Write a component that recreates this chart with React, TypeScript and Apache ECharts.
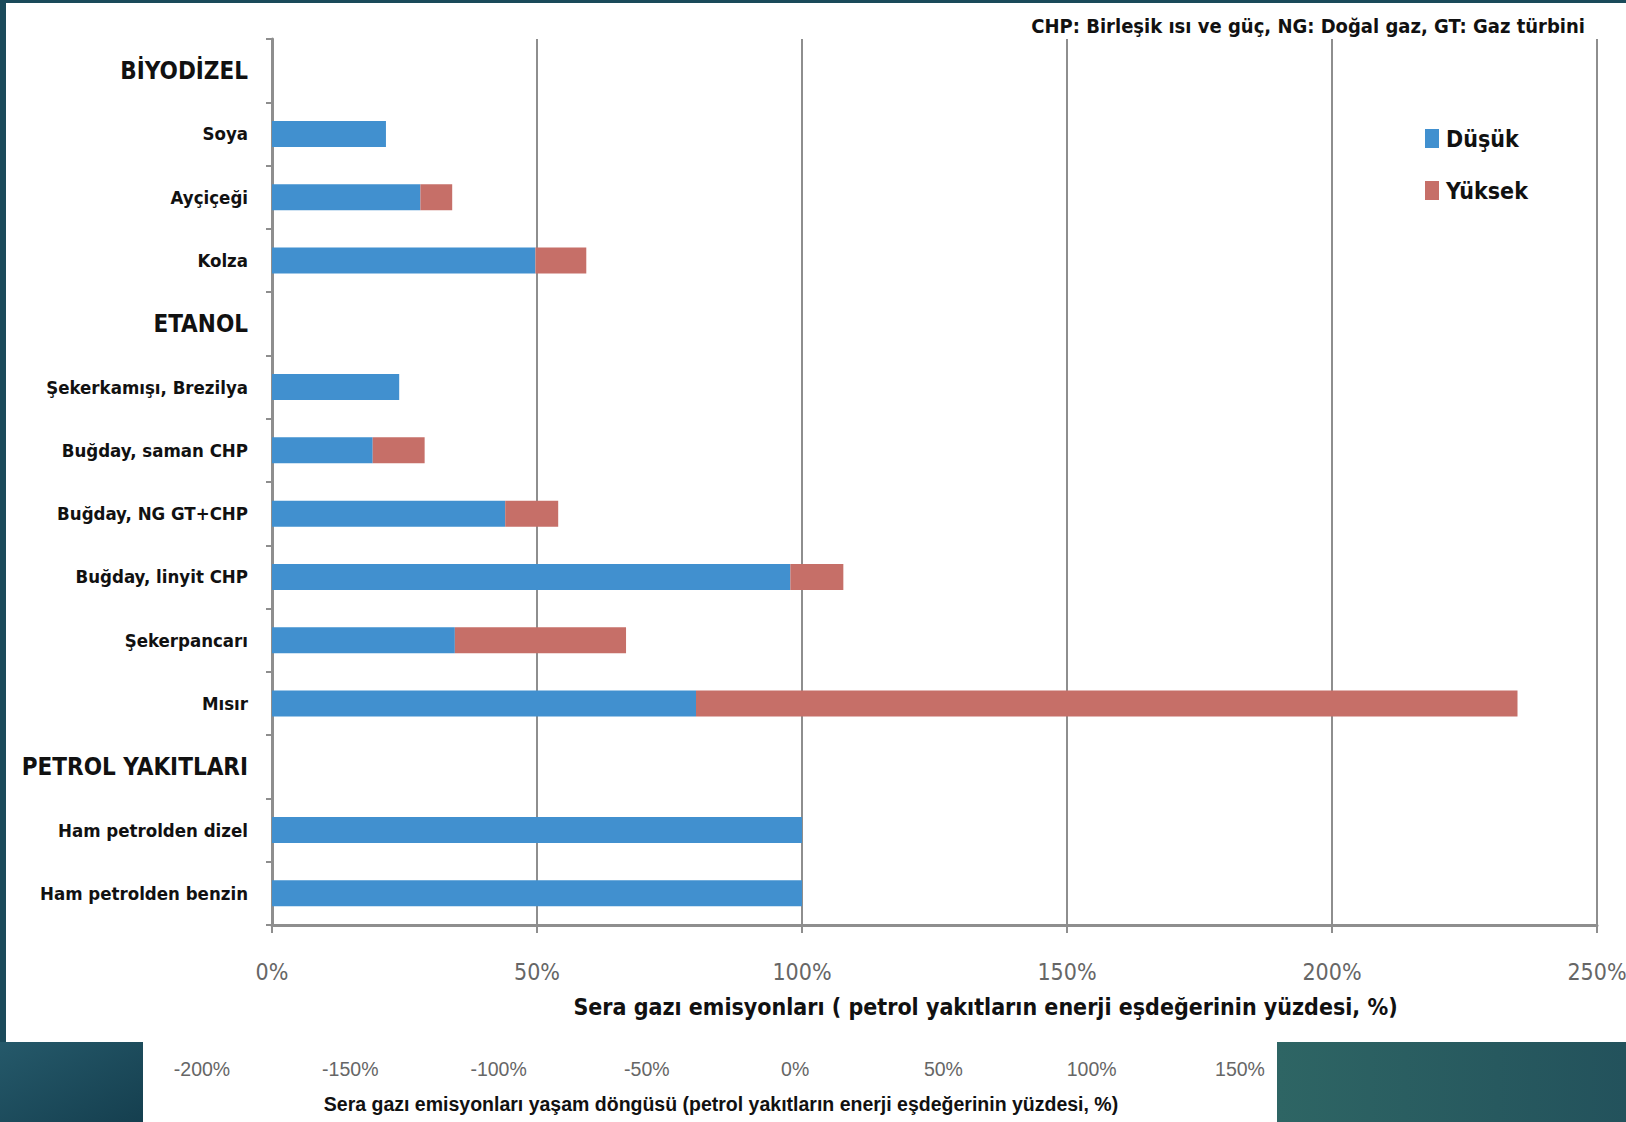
import React, { useEffect, useRef } from "react";
import * as echarts from "echarts";

const categories = [
  "BİYODİZEL",
  "Soya",
  "Ayçiçeği",
  "Kolza",
  "ETANOL",
  "Şekerkamışı, Brezilya",
  "Buğday, saman CHP",
  "Buğday, NG GT+CHP",
  "Buğday, linyit CHP",
  "Şekerpancarı",
  "Mısır",
  "PETROL YAKITLARI",
  "Ham petrolden dizel",
  "Ham petrolden benzin",
];
const headers = ["BİYODİZEL", "ETANOL", "PETROL YAKITLARI"];

// low end (Düşük) and high end (Yüksek) of each range, in %
const dusuk = [null, 21.5, 28, 49.7, null, 24, 19, 44, 97.8, 34.5, 80, null, 100, 100];
const yuksek = [null, 21.5, 34, 59.3, null, 24, 28.8, 54, 107.8, 66.8, 235, null, 100, 100];

const mainTicks = [0, 250, 50];
const lifeTicks = [-200, 150, 50];

const NOTE = "CHP: Birleşik ısı ve güç, NG: Doğal gaz, GT: Gaz türbini";
const MAIN_TITLE = "Sera gazı emisyonları ( petrol yakıtların enerji eşdeğerinin yüzdesi, %)";
const LIFE_TITLE = "Sera gazı emisyonları yaşam döngüsü (petrol yakıtların enerji eşdeğerinin yüzdesi, %)";

const NARROW = "'DejaVu Sans Condensed', 'Liberation Sans Narrow', sans-serif";
const SANS = "'Liberation Sans', Arial, sans-serif";

export default function App() {
  const ref = useRef<HTMLDivElement>(null);
  useEffect(() => {
    if (!ref.current) return;
    const chart = echarts.init(ref.current, null, { renderer: "svg" });
    const highPart = yuksek.map((h, i) =>
      h == null || dusuk[i] == null ? null : +(h - (dusuk[i] as number)).toFixed(2)
    );
    chart.setOption({
      animation: false,
      backgroundColor: "#ffffff",
      graphic: [
        { type: "rect", z: -10, shape: { x: 0, y: 0, width: 1626, height: 1122 }, style: { fill: "#1a4a5a" } },
        { type: "rect", z: -10, shape: { x: 6, y: 3, width: 1620, height: 1039 }, style: { fill: "#ffffff" } },
        {
          type: "rect", z: -10, shape: { x: 0, y: 1042, width: 143, height: 80 },
          style: { fill: new echarts.graphic.LinearGradient(0, 0, 1, 1, [{ offset: 0, color: "#25596a" }, { offset: 1, color: "#153f4f" }]) },
        },
        { type: "rect", z: -10, shape: { x: 143, y: 1042, width: 1134, height: 80 }, style: { fill: "#ffffff" } },
        {
          type: "rect", z: -10, shape: { x: 1277, y: 1042, width: 349, height: 80 },
          style: { fill: new echarts.graphic.LinearGradient(0, 0, 1, 0, [{ offset: 0, color: "#2e6564" }, { offset: 1, color: "#23525c" }]) },
        },
        {
          type: "text", right: 41, top: 16,
          style: { text: NOTE, font: `bold 20px ${NARROW}`, fill: "#111" },
        },
      ],
      legend: {
        orient: "vertical",
        left: 1420,
        top: 122,
        itemWidth: 14,
        itemHeight: 19,
        itemGap: 29,
        icon: "rect",
        data: ["Düşük", "Yüksek"],
        textStyle: { fontFamily: NARROW, fontWeight: "bold", fontSize: 23, color: "#111", padding: [0, 0, 0, 2] },
      },
      grid: [
        { left: 272, top: 39, width: 1325, height: 886, outerBoundsMode: "none", containLabel: false },
        { left: 202, top: 1040, width: 1038, height: 10, outerBoundsMode: "none", containLabel: false },
      ],
      xAxis: [
        {
          gridIndex: 0,
          type: "value",
          min: mainTicks[0],
          max: mainTicks[1],
          interval: mainTicks[2],
          axisLine: { show: true, lineStyle: { color: "#8e8e8e", width: 3 } },
          axisTick: { show: true, length: 8, lineStyle: { color: "#8e8e8e", width: 2 } },
          splitLine: { show: true, lineStyle: { color: "#8e8e8e", width: 2 } },
          axisLabel: { formatter: "{value}%", margin: 35, fontFamily: NARROW, fontSize: 23, color: "#666" },
          name: MAIN_TITLE,
          nameLocation: "middle",
          nameGap: 70,
          nameTextStyle: { fontFamily: NARROW, fontWeight: "bold", fontSize: 23, color: "#111", padding: [0, 0, 0, 102] },
        },
        {
          gridIndex: 1,
          type: "value",
          min: lifeTicks[0],
          max: lifeTicks[1],
          interval: lifeTicks[2],
          axisLine: { show: false },
          axisTick: { show: false },
          splitLine: { show: false },
          axisLabel: { formatter: "{value}%", margin: 9, fontFamily: SANS, fontSize: 19.5, color: "#666" },
          name: LIFE_TITLE,
          nameLocation: "middle",
          nameGap: 44,
          nameTextStyle: { fontFamily: SANS, fontWeight: "bold", fontSize: 19.5, color: "#111" },
        },
      ],
      yAxis: [
        {
          gridIndex: 0,
          type: "category",
          inverse: true,
          data: categories,
          axisLine: { show: true, lineStyle: { color: "#8e8e8e", width: 3 } },
          axisTick: { show: true, length: 6, lineStyle: { color: "#8e8e8e", width: 2 } },
          axisLabel: {
            margin: 24,
            formatter: (v: string) => (headers.includes(v) ? `{h|${v}}` : `{c|${v}}`),
            rich: {
              h: { fontFamily: NARROW, fontWeight: "bold", fontSize: 24, color: "#111" },
              c: { fontFamily: NARROW, fontWeight: "bold", fontSize: 18.5, color: "#111" },
            },
          },
        },
        { gridIndex: 1, type: "category", show: false, data: ["x"] },
      ],
      series: [
        {
          name: "Düşük",
          type: "bar",
          stack: "range",
          xAxisIndex: 0,
          yAxisIndex: 0,
          barWidth: 26,
          itemStyle: { color: "#4190cf" },
          data: dusuk,
        },
        {
          name: "Yüksek",
          type: "bar",
          stack: "range",
          xAxisIndex: 0,
          yAxisIndex: 0,
          barWidth: 26,
          itemStyle: { color: "#c66f68" },
          data: highPart,
        },
      ],
    });
    return () => chart.dispose();
  }, []);
  return (
    <div
      ref={ref}
      style={{ position: "fixed", left: 0, top: 0, width: 1626, height: 1122 }}
    />
  );
}
